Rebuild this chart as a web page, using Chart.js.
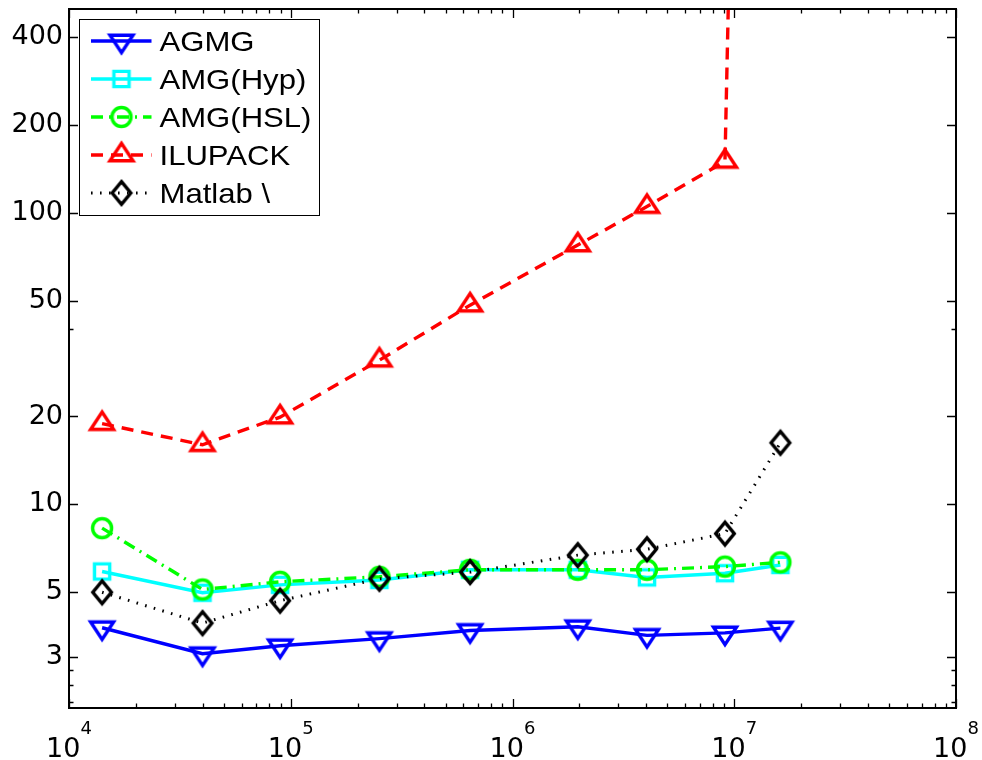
<!DOCTYPE html>
<html>
<head>
<meta charset="utf-8">
<title>Solve time vs problem size</title>
<script src="https://cdn.jsdelivr.net/npm/chart.js@4.4.1/dist/chart.umd.min.js"></script>
<style>
  html, body { margin: 0; padding: 0; background: #fff; }
  #wrap { width: 982px; height: 760px; }
</style>
</head>
<body>
<div id="wrap"><canvas id="c" width="982" height="760"></canvas></div>
<script>
// Problem sizes (number of unknowns)
const sizes = [1.41e4, 4.0e4, 8.95e4, 2.51e5, 6.44e5, 1.97e6, 4.04e6, 9.08e6, 1.615e7];

// Timings for each solver at the sizes above
const agmg     = [3.77, 3.07, 3.27, 3.46, 3.69, 3.80, 3.55, 3.62, 3.76];
const amgHyp   = [5.88, 4.97, 5.29, 5.50, 5.96, 5.96, 5.61, 5.80, 6.19];
const amgHsl   = [8.28, 5.10, 5.42, 5.64, 5.96, 5.96, 5.96, 6.11, 6.32];
const ilupack  = [18.9, 16.0, 19.9, 31.2, 48.2, 77.5, 105, 150, 1e11];
const matlabBs = [4.99, 3.91, 4.67, 5.55, 5.85, 6.69, 7.01, 7.93, 16.25];

const seriesNames = ['AGMG', 'AMG(Hyp)', 'AMG(HSL)', 'ILUPACK', 'Matlab \\'];

// Axis ticks
const xMajorTicks = [1e4, 1e5, 1e6, 1e7, 1e8];
const xMinorMantissas = [2, 3, 4, 5, 6, 7, 8, 9];
const yMajorTicks = [3, 5, 10, 20, 50, 100, 200, 400];
const yMinorTicks = [2.1, 2.4, 2.7, 40];
const xRange = [1e4, 1e8];
const yRange = [2, 500];

// Line and marker styles per series
const seriesColors = ['#0000ff', '#00ffff', '#00ff00', '#ff0000', '#000000'];
const seriesDashes = [[], [], [12, 6, 2, 6], [12, 8], [1.6, 7.4]];
const seriesWidths = [3.4, 3.4, 3.4, 3.4, 3];
const seriesMarkers = ['tdown', 'square', 'circle', 'tup', 'diamond'];
const seriesValues = [agmg, amgHyp, amgHsl, ilupack, matlabBs];

function traceMarker(g, kind) {
  g.beginPath();
  if (kind === 'tdown') {
    g.moveTo(-11.5, -5.8); g.lineTo(11.5, -5.8); g.lineTo(0, 11.6); g.closePath();
  } else if (kind === 'tup') {
    g.moveTo(-11.5, 5.8); g.lineTo(11.5, 5.8); g.lineTo(0, -11.6); g.closePath();
  } else if (kind === 'square') {
    g.rect(-7.6, -7.6, 15.2, 15.2);
  } else if (kind === 'circle') {
    g.arc(0, 0, 9.5, 0, Math.PI * 2);
  } else if (kind === 'diamond') {
    g.moveTo(0, -11.3); g.lineTo(9.3, 0); g.lineTo(0, 11.3); g.lineTo(-9.3, 0); g.closePath();
  }
}

// Open markers rendered once into small canvases, used as point styles
function makeMarker(kind, color) {
  const c = document.createElement('canvas');
  c.width = 36; c.height = 36;
  const g = c.getContext('2d');
  g.translate(18, 18);
  traceMarker(g, kind);
  g.strokeStyle = color;
  g.lineWidth = 3.4;
  g.lineJoin = 'miter';
  g.stroke();
  return c;
}

const datasets = seriesNames.map((name, i) => ({
  label: name,
  data: sizes.map((s, k) => ({ x: s, y: seriesValues[i][k] })),
  borderColor: seriesColors[i],
  backgroundColor: 'rgba(0,0,0,0)',
  borderWidth: seriesWidths[i],
  borderDash: seriesDashes[i],
  pointStyle: makeMarker(seriesMarkers[i], seriesColors[i]),
  pointRadius: 10,
  pointHoverRadius: 10,
  fill: false,
  tension: 0,
  order: seriesNames.length - i
}));

// Box around the plot area with inward tick marks on all four sides
const framePlugin = {
  id: 'frame',
  afterDatasetsDraw(chart) {
    const { ctx, chartArea: a, scales } = chart;
    const xs = scales.x, ys = scales.y;
    const major = 9, minor = 4.5;
    ctx.save();
    ctx.strokeStyle = '#000';
    ctx.lineWidth = 1.3;
    ctx.beginPath();
    const tickX = (v, len) => {
      const px = Math.round(xs.getPixelForValue(v)) + 0.5;
      ctx.moveTo(px, a.bottom); ctx.lineTo(px, a.bottom - len);
      ctx.moveTo(px, a.top); ctx.lineTo(px, a.top + len);
    };
    const tickY = (v, len) => {
      const py = Math.round(ys.getPixelForValue(v)) + 0.5;
      ctx.moveTo(a.left, py); ctx.lineTo(a.left + len, py);
      ctx.moveTo(a.right, py); ctx.lineTo(a.right - len, py);
    };
    xMajorTicks.forEach(v => tickX(v, major));
    xMajorTicks.slice(0, -1).forEach(d => xMinorMantissas.forEach(m => tickX(m * d, minor)));
    yMajorTicks.forEach(v => tickY(v, major));
    yMinorTicks.forEach(v => tickY(v, minor));
    ctx.stroke();
    ctx.lineWidth = 2;
    ctx.strokeRect(a.left, a.top, a.right - a.left, a.bottom - a.top);
    ctx.restore();
  }
};

// Power-of-ten labels under the x axis
const xLabelPlugin = {
  id: 'xLabels',
  afterDraw(chart) {
    const { ctx, scales } = chart;
    const xs = scales.x;
    ctx.save();
    ctx.fillStyle = '#000';
    ctx.textBaseline = 'alphabetic';
    xs.ticks.forEach(t => {
      const px = xs.getPixelForValue(t.value);
      const exp = String(Math.round(Math.log10(t.value)));
      ctx.font = '27px "DejaVu Sans"';
      const wb = ctx.measureText('10').width;
      ctx.font = '18px "DejaVu Sans"';
      const we = ctx.measureText(exp).width;
      const left = px - (wb + we) / 2;
      ctx.font = '27px "DejaVu Sans"';
      ctx.fillText('10', left, 757);
      ctx.font = '18px "DejaVu Sans"';
      ctx.fillText(exp, left + wb, 734);
    });
    ctx.restore();
  }
};

// Boxed legend inside the upper-left corner of the plot
const boxLegendPlugin = {
  id: 'boxLegend',
  afterDraw(chart) {
    const { ctx, chartArea: a } = chart;
    const L = a.left + 10.5, T = a.top + 10.5, W = 240, H = 196;
    const rowTop = T + 21.5, rowStep = 38;
    ctx.save();
    ctx.fillStyle = '#fff';
    ctx.fillRect(L, T, W, H);
    ctx.strokeStyle = '#000';
    ctx.lineWidth = 1;
    ctx.strokeRect(L, T, W, H);
    chart.data.datasets.forEach((ds, i) => {
      const yy = rowTop + i * rowStep;
      ctx.beginPath();
      ctx.setLineDash(ds.borderDash || []);
      ctx.strokeStyle = ds.borderColor;
      ctx.lineWidth = ds.borderWidth;
      ctx.moveTo(L + 11.5, yy);
      ctx.lineTo(L + 72, yy);
      ctx.stroke();
      ctx.setLineDash([]);
      ctx.drawImage(ds.pointStyle, L + 42 - 18, yy - 18);
      ctx.save();
      ctx.translate(L + 80, yy + 10);
      ctx.scale(1.11, 1);
      ctx.font = '28px "Liberation Sans"';
      ctx.fillStyle = '#000';
      ctx.textBaseline = 'alphabetic';
      ctx.fillText(ds.label, 0, 0);
      ctx.restore();
    });
    ctx.restore();
  }
};

new Chart(document.getElementById('c'), {
  type: 'line',
  data: { datasets },
  options: {
    responsive: false,
    animation: false,
    devicePixelRatio: 1,
    events: [],
    layout: { autoPadding: false, padding: { left: 0, top: 9, right: 26, bottom: 0 } },
    plugins: {
      legend: { display: false },
      tooltip: { enabled: false },
      title: { display: false }
    },
    scales: {
      x: {
        type: 'logarithmic',
        min: xRange[0],
        max: xRange[1],
        grid: { display: false, drawTicks: false },
        border: { display: false },
        ticks: { display: false },
        afterBuildTicks: s => { s.ticks = xMajorTicks.map(v => ({ value: v })); },
        afterFit: s => { s.height = 52; s.paddingLeft = 0; s.paddingRight = 0; }
      },
      y: {
        type: 'logarithmic',
        min: yRange[0],
        max: yRange[1],
        grid: { display: false, drawTicks: false },
        border: { display: false },
        ticks: {
          autoSkip: false,
          padding: 6,
          color: '#000',
          font: { family: 'DejaVu Sans', size: 27 },
          callback: v => String(v)
        },
        afterBuildTicks: s => { s.ticks = yMajorTicks.map(v => ({ value: v })); },
        afterFit: s => { s.width = 69; s.paddingTop = 0; s.paddingBottom = 0; }
      }
    }
  },
  plugins: [framePlugin, xLabelPlugin, boxLegendPlugin]
});
</script>
</body>
</html>
